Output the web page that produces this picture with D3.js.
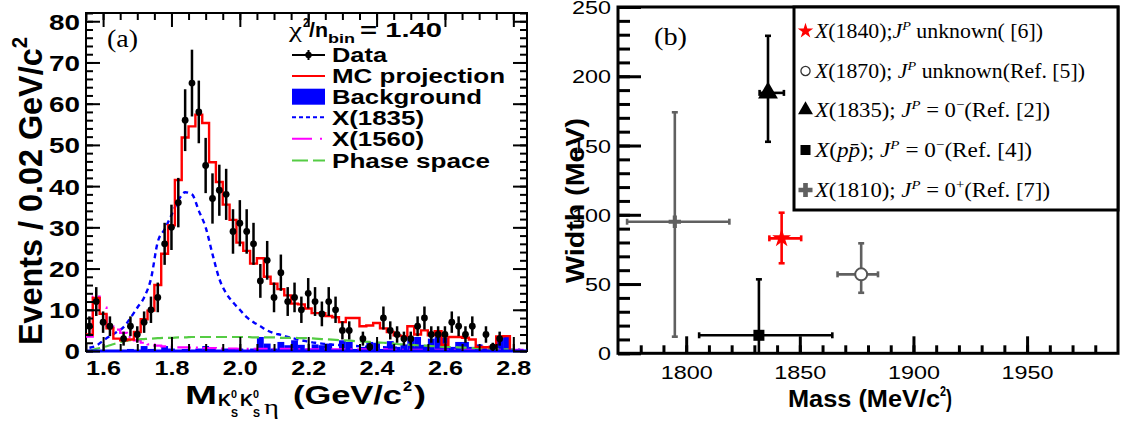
<!DOCTYPE html>
<html>
<head>
<meta charset="utf-8">
<script src="https://cdn.jsdelivr.net/npm/d3@7"></script>
<style>
  body { margin: 0; background: #fff; }
  svg { display: block; }
</style>
</head>
<body>
<svg id="fig" width="1123" height="426"></svg>
<script>
// ---------- panel (a) data: M(KsKsEta) spectrum, 0.02 GeV/c2 bins ----------
const binCenters = [1.56,1.58,1.60,1.62,1.64,1.66,1.68,1.70,1.72,1.74,1.76,1.78,1.80,1.82,1.84,1.86,1.88,1.90,1.92,1.94,
  1.96,1.98,2.00,2.02,2.04,2.06,2.08,2.10,2.12,2.14,2.16,2.18,2.20,2.22,2.24,2.26,2.28,2.30,2.32,2.34,
  2.36,2.38,2.40,2.42,2.44,2.46,2.48,2.50,2.52,2.54,2.56,2.58,2.60,2.62,2.64,2.66,2.68,2.70,2.72,2.74,
  2.76,2.78,2.80,2.82];
const dataCounts = [6,12,7,6,null,3,6,4,7,10,13,26,30,36,56,65,58,45,37,39,
  38,29,31,29,26,17,22,13,19,12,13,10,14,12,9,12,10,5,5,null,
  3,1,null,8,5,4,3,3,6,8,4,4,4,7,6,4,6,null,4,1,
  3,null,null,null];
const dataErrors = [2.4,3.5,2.6,2.4,null,1.7,2.4,2.0,2.6,3.2,3.6,5.1,5.5,6.0,7.5,8.1,7.6,6.7,6.1,6.2,
  6.2,5.4,5.6,5.4,5.1,4.1,4.7,3.6,4.4,3.5,3.6,3.2,3.7,3.5,3.0,3.5,3.2,2.2,2.2,null,
  1.7,1.0,null,2.8,2.2,2.0,1.7,1.7,2.4,2.8,2.0,2.0,2.0,2.6,2.4,2.0,2.4,null,2.0,1.0,
  1.7,null,null,null];
const mcProjection = [4.0,12.9,9.0,5.5,3.0,2.6,2.8,4.6,7.7,9.8,16.0,23.6,30.5,41.5,51.8,54.5,57.3,55.3,45.8,41.0,
  35.5,31.8,26.3,24.3,21.2,22.5,18.0,16.3,15.0,13.5,11.5,11.3,10.3,9.2,9.2,8.5,8.2,7.0,8.0,8.0,
  6.0,6.2,6.8,5.5,4.6,3.8,3.6,6.0,4.0,5.0,3.8,4.8,1.5,3.4,3.4,3.2,2.8,1.0,0.9,1.0,
  3.5,3.6,null,null];
const background = [0,0,0,0,0,0,0.5,0,1.2,0.5,0,1.2,0.6,0,0.5,0,0.6,1.2,0.5,0,
  0.6,0.5,0.6,0,0.6,3.4,1.8,0.6,2.2,1.4,2.6,1.5,0.6,1.6,1.4,1.8,0.5,2.6,2.2,0.5,
  1.0,2.2,2.0,0.5,2.4,1.0,1.6,3.4,3.4,1.5,3.0,3.4,3.2,1.0,2.2,2.2,1.0,1.6,0.5,0.8,
  3.2,3.4,0,0];
const x1835Shape = [0.8,1.3,2.5,3.6,4.6,5.8,8.0,10.5,13.0,17.5,26.5,29.5,33,36.5,38.5,38,34,30,23.5,17.5,
  14,11.8,10,8.2,7,6,5,4.3,3.9,3.4,3.0,2.6,2.3,2.0,1.8,1.6,1.5,1.4,1.3,1.2,
  1.1,1.0,0.9,0.9,0.8,0.8,0.7,0.7,0.6,0.6,0.6,0.5,0.5,0.5,0.5,0.4,0.4,0.4,0.4,0.4,
  0.3,0.3,0.3,0.3];
const x1560Shape = [3.5,13.2,10.5,6.0,5.2,4.4,3.4,2.6,2.0,1.6,1.3,1.1,1.0,0.9,0.9,0.8,0.8,0.7,0.7,0.6,
  0.6,0.6,0.5,0.5,0.5,0.5,0.5,0.5,0.5,0.5,0.4,0.4,0.4,0.4,0.4,0.4,0.4,0.4,0.4,0.4,
  0.4,0.4,0.4,0.4,0.3,0.3,0.3,0.3,0.3,0.3,0.3,0.3,0.3,0.3,0.3,0.3,0.3,0.3,0.3,0.3,
  0.3,0.3,0.3,0.3];
const phaseSpace = [0.1,0.5,0.9,1.4,1.9,2.3,2.6,2.8,2.9,3.0,3.1,3.2,3.2,3.3,3.3,3.4,3.4,3.4,3.4,3.4,
  3.4,3.4,3.4,3.4,3.3,3.3,3.3,3.3,3.2,3.2,3.2,3.1,3.1,3.0,2.9,2.8,2.7,2.6,2.5,2.4,
  2.3,2.2,2.1,2.0,1.9,1.7,1.6,1.5,1.4,1.3,1.2,1.1,1.0,0.95,0.9,0.8,0.7,0.65,0.6,0.5,
  0.45,0.4,0.3,0.25];
const massTicksA = [1.6,1.8,2.0,2.2,2.4,2.6,2.8];
const eventTicks = [0,10,20,30,40,50,60,70,80];
const legendA = ["Data","MC projection","Background","X(1835)","X(1560)","Phase space"];

// ---------- panel (b) data: mass / width of the states ----------
const resNames   = ["X(1840)","X(1870)","X(1835)","X(ppbar)","X(1810)"];
const resMass    = [1842, 1877, 1836, 1832, 1795];
const resMassLo  = [1836.6, 1866.6, 1832.3, 1805.7, 1774];
const resMassHi  = [1850.6, 1884.4, 1843.0, 1864.3, 1819];
const resWidth   = [83, 57, 188, 13, 95];
const resWidthLo = [65, 43.7, 152.7, 0, 12];
const resWidthHi = [101.5, 79.4, 229.2, 53.4, 174];
const massTicksB = [1800,1850,1900,1950];
const widthTicks = [0,50,100,150,200,250];
const legendB = [
  [["X","it"],["(1840);",""],["J","it"],["P","sup"],[" unknown( [6])",""]],
  [["X","it"],["(1870); ",""],["J","it"],["P","sup"],[" unknown(Ref. [5])",""]],
  [["X","it"],["(1835); ",""],["J","it"],["P","sup"],[" = 0",""],["\u2212","sup"],["(Ref. [2])",""]],
  [["X","it"],["(",""],["pp\u0304","it"],["); ",""],["J","it"],["P","sup"],[" = 0",""],["\u2212","sup"],["(Ref. [4])",""]],
  [["X","it"],["(1810); ",""],["J","it"],["P","sup"],[" = 0",""],["+","sup"],["(Ref. [7])",""]]
];

const SANS = "'Liberation Sans', Arial, sans-serif";
const SERIF = "'Liberation Serif', 'Times New Roman', serif";
const svg = d3.select("#fig");

function label(parent, txt, x, y, opt) {
  const t = parent.append("text").attr("x", x).attr("y", y).text(txt)
    .attr("font-family", opt.family || SANS)
    .attr("font-size", opt.size)
    .attr("font-weight", opt.weight || "normal")
    .attr("fill", "#000");
  if (opt.anchor) t.attr("text-anchor", opt.anchor);
  if (opt.width) t.attr("textLength", opt.width).attr("lengthAdjust", "spacingAndGlyphs");
  return t;
}

// ================= panel (a) =================
const xA = d3.scaleLinear().domain([1.55, 2.84]).range([86, 527]);
const yA = d3.scaleLinear().domain([0, 82]).range([351, 13]);
const half = 0.01;
const gA = svg.append("g");
const bins = binCenters.map((c, i) => ({
  c, n: dataCounts[i], e: dataErrors[i], mc: mcProjection[i], bkg: background[i],
  s1835: x1835Shape[i], s1560: x1560Shape[i], ps: phaseSpace[i]
}));

gA.append("rect").attr("x", 86).attr("y", 13).attr("width", 441).attr("height", 338)
  .attr("fill", "none").attr("stroke", "#000").attr("stroke-width", 2);

gA.selectAll("rect.bkg").data(bins.filter(d => d.bkg > 0)).join("rect")
  .attr("x", d => xA(d.c - half)).attr("width", d => xA(d.c + half) - xA(d.c - half))
  .attr("y", d => yA(d.bkg)).attr("height", d => yA(0) - yA(d.bkg))
  .attr("fill", "#0000ff");

function stepPts(key) {
  const pts = [];
  bins.forEach(d => { if (d[key] != null) pts.push([d.c - half, d[key]], [d.c + half, d[key]]); });
  return pts;
}
const lineA = d3.line().x(d => xA(d[0])).y(d => yA(d[1]));
const smoothA = d3.line().x(d => xA(d.c)).curve(d3.curveMonotoneX);

gA.append("path").attr("d", smoothA.y(d => yA(d.s1835))(bins))
  .attr("fill", "none").attr("stroke", "#0000ff").attr("stroke-width", 2.4).attr("stroke-dasharray", "5,4");
gA.append("path").attr("d", lineA(stepPts("s1560")))
  .attr("fill", "none").attr("stroke", "#ff00ff").attr("stroke-width", 2.2).attr("stroke-dasharray", "14,5,2,5");
gA.append("path").attr("d", smoothA.y(d => yA(d.ps))(bins))
  .attr("fill", "none").attr("stroke", "#55cc44").attr("stroke-width", 2.2).attr("stroke-dasharray", "11,5");
const mcPts = stepPts("mc");
mcPts.push([mcPts[mcPts.length - 1][0], 0]);
gA.append("path").attr("d", lineA(mcPts))
  .attr("fill", "none").attr("stroke", "#ff0000").attr("stroke-width", 2.4);

gA.append("line").attr("x1", 86).attr("x2", 527).attr("y1", yA(0)).attr("y2", yA(0))
  .attr("stroke", "#0000ff").attr("stroke-width", 3);

const pts = bins.filter(d => d.n != null);
gA.selectAll("line.err").data(pts).join("line")
  .attr("x1", d => xA(d.c)).attr("x2", d => xA(d.c))
  .attr("y1", d => yA(Math.max(0, d.n - d.e))).attr("y2", d => yA(d.n + d.e))
  .attr("stroke", "#000").attr("stroke-width", 2.5);
gA.selectAll("circle.pt").data(pts).join("circle")
  .attr("cx", d => xA(d.c)).attr("cy", d => yA(d.n)).attr("r", 3.4).attr("fill", "#000");

// axes (ticks inside, ROOT style)
function styleTicks(g) { g.select(".domain").remove(); g.selectAll("line").attr("stroke", "#000").attr("stroke-width", 2); }
const minorMassA = d3.range(1.55, 2.8401, 0.05);
const minorEventsA = d3.range(0, 82.01, 2);
gA.append("g").attr("transform", "translate(0,351)")
  .call(d3.axisBottom(xA).tickValues(massTicksA).tickSize(-14).tickPadding(9).tickFormat(d3.format(".1f")))
  .call(styleTicks)
  .call(g => g.selectAll("text").attr("font-family", SANS).attr("font-weight", "bold")
    .attr("font-size", 21).attr("textLength", 35).attr("lengthAdjust", "spacingAndGlyphs"));
gA.append("g").attr("transform", "translate(0,351)")
  .call(d3.axisBottom(xA).tickValues(minorMassA).tickSize(-7).tickFormat("")).call(styleTicks);
gA.append("g").attr("transform", "translate(0,13)")
  .call(d3.axisTop(xA).tickValues(massTicksA).tickSize(-14).tickFormat("")).call(styleTicks);
gA.append("g").attr("transform", "translate(0,13)")
  .call(d3.axisTop(xA).tickValues(minorMassA).tickSize(-7).tickFormat("")).call(styleTicks);
gA.append("g").attr("transform", "translate(86,0)")
  .call(d3.axisLeft(yA).tickValues(eventTicks).tickSize(-14).tickPadding(6))
  .call(styleTicks)
  .call(g => g.selectAll("text").attr("font-family", SANS).attr("font-weight", "bold")
    .attr("font-size", 22).attr("dy", "0.36em")
    .attr("textLength", d => String(d).length * 15.5).attr("lengthAdjust", "spacingAndGlyphs"));
gA.append("g").attr("transform", "translate(86,0)")
  .call(d3.axisLeft(yA).tickValues(minorEventsA).tickSize(-7).tickFormat("")).call(styleTicks);
gA.append("g").attr("transform", "translate(527,0)")
  .call(d3.axisRight(yA).tickValues(eventTicks).tickSize(-14).tickFormat("")).call(styleTicks);
gA.append("g").attr("transform", "translate(527,0)")
  .call(d3.axisRight(yA).tickValues(minorEventsA).tickSize(-7).tickFormat("")).call(styleTicks);

// axis titles (a)
const yTitleA = gA.append("text").attr("transform", "translate(42,345) rotate(-90) scale(1,1.25)")
  .attr("font-family", SANS).attr("font-weight", "bold").attr("font-size", 27)
  .attr("textLength", 308).attr("lengthAdjust", "spacingAndGlyphs");
yTitleA.append("tspan").text("Events / 0.02 GeV/c");
yTitleA.append("tspan").attr("font-size", 17).attr("dy", -12).text("2");

label(gA, "M", 185, 404, { size: 26, weight: "bold", width: 32 });
label(gA, "K", 218, 406, { size: 16, weight: "bold", width: 13 });
label(gA, "0", 231, 398, { size: 11, weight: "bold", width: 6 });
label(gA, "S", 231, 417, { size: 11, weight: "bold", width: 7 });
label(gA, "K", 240, 406, { size: 16, weight: "bold", width: 13 });
label(gA, "0", 253, 398, { size: 11, weight: "bold", width: 6 });
label(gA, "S", 253, 417, { size: 11, weight: "bold", width: 7 });
label(gA, "\u03b7", 264, 414, { size: 20, family: SERIF, width: 15 });
label(gA, "(GeV/c", 293, 404, { size: 26, weight: "bold", width: 109 });
label(gA, "2", 403, 391, { size: 15, weight: "bold", width: 9 });
label(gA, ")", 414, 404, { size: 26, weight: "bold", width: 12 });

label(gA, "(a)", 107, 47, { size: 25, family: SERIF, width: 31 });

// legend (a)
label(gA, "\u03c7", 289, 36.7, { size: 22, family: SERIF, width: 13 });
label(gA, "2", 303, 27, { size: 13, weight: "bold", width: 6 });
label(gA, "/n", 309, 36.7, { size: 20, weight: "bold", width: 19 });
label(gA, "bin", 328, 42.5, { size: 12, weight: "bold", width: 27 });
label(gA, "= 1.40", 360, 36.7, { size: 20, weight: "bold", width: 82 });

const legAy = [55, 76, 96.7, 117.3, 138.7, 160.5];
const legAw = [55, 173, 150, 92, 92, 158];
legendA.forEach((t, i) => label(gA, t, 332, legAy[i] + 7.3, { size: 20, weight: "bold", width: legAw[i] }));
gA.append("line").attr("x1", 292).attr("x2", 325).attr("y1", legAy[0]).attr("y2", legAy[0]).attr("stroke", "#000").attr("stroke-width", 2);
gA.append("line").attr("x1", 308.5).attr("x2", 308.5).attr("y1", legAy[0] - 5).attr("y2", legAy[0] + 5).attr("stroke", "#000").attr("stroke-width", 2);
gA.append("circle").attr("cx", 308.5).attr("cy", legAy[0]).attr("r", 3.2).attr("fill", "#000");
gA.append("line").attr("x1", 292).attr("x2", 325).attr("y1", legAy[1]).attr("y2", legAy[1]).attr("stroke", "#ff0000").attr("stroke-width", 2);
gA.append("rect").attr("x", 292).attr("y", legAy[2] - 8).attr("width", 33).attr("height", 16).attr("fill", "#0000ff");
gA.append("line").attr("x1", 292).attr("x2", 325).attr("y1", legAy[3]).attr("y2", legAy[3]).attr("stroke", "#0000ff").attr("stroke-width", 2).attr("stroke-dasharray", "4,3");
gA.append("line").attr("x1", 292).attr("x2", 325).attr("y1", legAy[4]).attr("y2", legAy[4]).attr("stroke", "#ff00ff").attr("stroke-width", 2).attr("stroke-dasharray", "20,8,2,8");
gA.append("line").attr("x1", 292).attr("x2", 325).attr("y1", legAy[5]).attr("y2", legAy[5]).attr("stroke", "#55cc44").attr("stroke-width", 2).attr("stroke-dasharray", "16,5");

// ================= panel (b) =================
const xB = d3.scaleLinear().domain([1770, 1990]).range([618, 1118]);
const yB = d3.scaleLinear().domain([0, 250]).range([353.3, 7]);
const gB = svg.append("g");

const minorMassB = d3.range(1780, 1990, 10);
const minorWidth = d3.range(0, 251, 10);
gB.append("g").attr("transform", "translate(0,353.3)")
  .call(d3.axisBottom(xB).tickValues(massTicksB).tickSize(-17).tickPadding(13).tickFormat(d3.format("d")))
  .call(styleTicks)
  .call(g => g.selectAll("line").attr("stroke-width", 3))
  .call(g => g.selectAll("text").attr("font-family", SANS).attr("font-size", 18.5)
    .attr("textLength", 52).attr("lengthAdjust", "spacingAndGlyphs"));
gB.append("g").attr("transform", "translate(0,353.3)")
  .call(d3.axisBottom(xB).tickValues(minorMassB).tickSize(-8).tickFormat("")).call(styleTicks)
  .call(g => g.selectAll("line").attr("stroke-width", 3));
gB.append("g").attr("transform", "translate(618,0)")
  .call(d3.axisLeft(yB).tickValues(widthTicks).tickSize(-23).tickPadding(7).tickFormat(d3.format("d")))
  .call(styleTicks)
  .call(g => g.selectAll("line").attr("stroke-width", 3))
  .call(g => g.selectAll("text").attr("font-family", SANS).attr("font-size", 18.5).attr("dy", "0.36em")
    .attr("textLength", d => String(d).length * 13).attr("lengthAdjust", "spacingAndGlyphs"));
gB.append("g").attr("transform", "translate(618,0)")
  .call(d3.axisLeft(yB).tickValues(minorWidth).tickSize(-12).tickFormat("")).call(styleTicks)
  .call(g => g.selectAll("line").attr("stroke-width", 3));

gB.append("rect").attr("x", 618).attr("y", 7).attr("width", 500).attr("height", 346.3)
  .attr("fill", "none").attr("stroke", "#000").attr("stroke-width", 3);

const resColor = ["#ff0000", "#606060", "#000000", "#000000", "#606060"];
const resSymbol = [d3.symbolStar, d3.symbolCircle, d3.symbolTriangle, d3.symbolSquare, d3.symbolCross];
const plotSize = [110, 113, 170, 121, 85];
const legSize = [75, 66, 97, 100, 109];
const res = resNames.map((n, i) => ({
  n, m: resMass[i], mlo: resMassLo[i], mhi: resMassHi[i],
  w: resWidth[i], wlo: resWidthLo[i], whi: resWidthHi[i], col: resColor[i], sym: resSymbol[i], i
}));

res.forEach(d => {
  const g = gB.append("g").attr("stroke", d.col).attr("stroke-width", 2.6);
  const cx = xB(d.m), cy = yB(d.w);
  g.append("line").attr("x1", xB(d.mlo)).attr("x2", xB(d.mhi)).attr("y1", cy).attr("y2", cy);
  g.append("line").attr("x1", cx).attr("x2", cx).attr("y1", yB(d.wlo)).attr("y2", yB(d.whi));
  [xB(d.mlo), xB(d.mhi)].forEach(x => g.append("line").attr("x1", x).attr("x2", x).attr("y1", cy - 3).attr("y2", cy + 3));
  [yB(d.wlo), yB(d.whi)].filter(y => y < 352).forEach(y => g.append("line").attr("x1", cx - 3).attr("x2", cx + 3).attr("y1", y).attr("y2", y));
  const open = d.sym === d3.symbolCircle;
  gB.append("path").attr("transform", `translate(${cx},${cy})`)
    .attr("d", d3.symbol().type(d.sym).size(plotSize[d.i])())
    .attr("fill", open ? "#fff" : d.col)
    .attr("stroke", open ? "#555" : "none").attr("stroke-width", 2);
});

// axis titles (b)
label(gB, "(b)", 654, 45, { size: 25, family: SERIF, width: 33 });
label(gB, "Mass (MeV/c", 788, 406.5, { size: 23, weight: "bold", width: 152 });
label(gB, "2", 940, 396, { size: 14, weight: "bold", width: 6 });
label(gB, ")", 946, 406.5, { size: 23, weight: "bold", width: 6 });
gB.append("text").attr("transform", "translate(584,283) rotate(-90) scale(1,1.15)")
  .attr("font-family", SANS).attr("font-weight", "bold").attr("font-size", 22)
  .attr("textLength", 165).attr("lengthAdjust", "spacingAndGlyphs").text("Width (MeV)");

// legend (b)
gB.append("rect").attr("x", 794).attr("y", 7).attr("width", 324).attr("height", 203)
  .attr("fill", "#fff").attr("stroke", "#000").attr("stroke-width", 3);
const legBy = [37.5, 77.5, 116.5, 156.5, 196.5];
const legBw = [228, 270, 235, 217, 235];
legendB.forEach((pieces, i) => {
  const d = res[i];
  const open = d.sym === d3.symbolCircle;
  gB.append("path").attr("transform", `translate(805.5,${legBy[i] - 6.5})`)
    .attr("d", d3.symbol().type(d.sym).size(legSize[i])())
    .attr("fill", open ? "#fff" : d.col)
    .attr("stroke", open ? "#333" : "none").attr("stroke-width", 1.3);
  const t = gB.append("text").attr("x", 815).attr("y", legBy[i])
    .attr("font-family", SERIF).attr("font-size", 20).attr("fill", "#000")
    .attr("textLength", legBw[i]).attr("lengthAdjust", "spacingAndGlyphs");
  let up = false;
  pieces.forEach(([txt, st]) => {
    const sup = st === "sup";
    const ts = t.append("tspan").text(txt);
    if (st === "it" || (sup && txt === "P")) ts.attr("font-style", "italic");
    if (sup) ts.attr("font-size", 13);
    if (sup && !up) ts.attr("dy", -8);
    if (!sup && up) ts.attr("dy", 8);
    up = sup;
  });
});
</script>
</body>
</html>
